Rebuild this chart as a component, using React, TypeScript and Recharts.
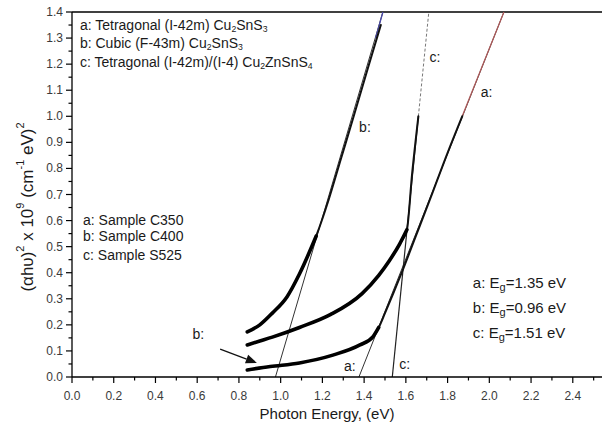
import React from 'react';
import { LineChart, Line, XAxis, YAxis, ReferenceLine, ReferenceDot } from 'recharts';

// ---- axis ticks ----
const X_TICKS = [0, 0.1, 0.2, 0.3, 0.4, 0.5, 0.6, 0.7, 0.8, 0.9, 1.0, 1.1, 1.2, 1.3, 1.4, 1.5, 1.6, 1.7, 1.8, 1.9, 2.0, 2.1, 2.2, 2.3, 2.4, 2.5];
const X_LABELED_MAX = 2.4;
const Y_TICKS = [0, 0.05, 0.1, 0.15, 0.2, 0.25, 0.3, 0.35, 0.4, 0.45, 0.5, 0.55, 0.6, 0.65, 0.7, 0.75, 0.8, 0.85, 0.9, 0.95, 1.0, 1.05, 1.1, 1.15, 1.2, 1.25, 1.3, 1.35, 1.4];

// ---- measured curves (photon energy eV, (αhν)^2 x 1e9) ----
const CURVE_A_X = [0.84, 0.95, 1.09, 1.25, 1.38, 1.443, 1.47, 1.50, 1.58, 1.65, 1.715, 1.80, 1.87];
const CURVE_A_Y = [0.027, 0.04, 0.054, 0.084, 0.123, 0.155, 0.19, 0.245, 0.40, 0.545, 0.68, 0.86, 1.0];
const CURVE_A_DENSE = 7; // points in the dense (thick) low-energy part

const CURVE_B_X = [0.84, 0.90, 0.96, 1.03, 1.09, 1.17, 1.23, 1.29, 1.35, 1.42, 1.48];
const CURVE_B_Y = [0.173, 0.20, 0.245, 0.307, 0.395, 0.54, 0.68, 0.84, 1.0, 1.19, 1.35];
const CURVE_B_DENSE = 6;

const CURVE_C_X = [0.84, 0.90, 0.96, 1.09, 1.24, 1.39, 1.47, 1.52, 1.57, 1.605, 1.63, 1.66];
const CURVE_C_Y = [0.123, 0.138, 0.153, 0.19, 0.24, 0.32, 0.39, 0.445, 0.51, 0.565, 0.78, 1.0];
const CURVE_C_DENSE = 10;

// ---- linear fits (band gap extrapolation) ----
const FIT_A_X = [1.375, 2.07];
const FIT_A_Y = [0, 1.4];
const FIT_A_TOP_X = [1.87, 2.07];
const FIT_A_TOP_Y = [1.0, 1.4];
const FIT_B_X = [0.975, 1.49];
const FIT_B_Y = [0, 1.4];
const FIT_B_TOP_X = [1.455, 1.49];
const FIT_B_TOP_Y = [1.3, 1.4];
const FIT_C_X = [1.535, 1.66];
const FIT_C_Y = [0, 1.0];
const FIT_C_EXT_X = [1.66, 1.71];
const FIT_C_EXT_Y = [1.0, 1.4];

// ---- arrow for "b:" ----
const ARROW_X = [0.71, 0.886];
const ARROW_Y = [0.107, 0.054];

// ---- texts ----
type Seg = { t: string; sub?: boolean };
const PHASE_LABELS: Seg[][] = [
  [{ t: 'a: Tetragonal (I-42m) Cu' }, { t: '2', sub: true }, { t: 'SnS' }, { t: '3', sub: true }],
  [{ t: 'b: Cubic (F-43m) Cu' }, { t: '2', sub: true }, { t: 'SnS' }, { t: '3', sub: true }],
  [{ t: 'c: Tetragonal (I-42m)/(I-4) Cu' }, { t: '2', sub: true }, { t: 'ZnSnS' }, { t: '4', sub: true }],
];
const PHASE_X = 0.038;
const PHASE_Y = [1.35, 1.281, 1.208];

const SAMPLE_LABELS = ['a: Sample C350', 'b: Sample C400', 'c: Sample S525'];
const SAMPLE_X = 0.053;
const SAMPLE_Y = [0.602, 0.541, 0.468];

const GAP_LETTERS = ['a', 'b', 'c'];
const GAP_VALUES = ['1.35', '0.96', '1.51'];
const GAP_X = 1.921;
const GAP_Y = [0.364, 0.269, 0.173];

const CURVE_TAGS = [
  { text: 'c:', x: 1.739, y: 1.229 },
  { text: 'a:', x: 1.987, y: 1.094 },
  { text: 'b:', x: 1.404, y: 0.96 },
  { text: 'b:', x: 0.605, y: 0.165 },
  { text: 'a:', x: 1.332, y: 0.043 },
  { text: 'c:', x: 1.595, y: 0.049 },
];

const FONT = '"Liberation Sans", Arial, Helvetica, sans-serif';

const zip = (xs: number[], ys: number[]) => xs.map((x, i) => ({ x, y: ys[i] }));

const XTick = (props: any) => {
  const { x, y, payload } = props;
  const v = payload.value as number;
  const idx = Math.round(v * 10);
  const major = idx % 2 === 0;
  const labeled = major && v <= X_LABELED_MAX + 1e-9;
  return (
    <g>
      <line x1={x} y1={y} x2={x} y2={y + (major ? 6 : 3.5)} stroke="#000" strokeWidth={1.2} />
      {labeled && (
        <text x={x} y={y + 19} textAnchor="middle" dominantBaseline="central" fontSize={12} fill="#3a3a3a" fontFamily={FONT}>
          {v.toFixed(1)}
        </text>
      )}
    </g>
  );
};

const YTick = (props: any) => {
  const { x, y, payload } = props;
  const v = payload.value as number;
  const idx = Math.round(v * 20);
  const major = idx % 2 === 0;
  return (
    <g>
      <line x1={x - (major ? 6 : 3.5)} y1={y} x2={x} y2={y} stroke="#000" strokeWidth={1.2} />
      {major && (
        <text x={x - 9} y={y} textAnchor="end" dominantBaseline="central" fontSize={12} fill="#3a3a3a" fontFamily={FONT}>
          {v.toFixed(1)}
        </text>
      )}
    </g>
  );
};

const renderSegs = (segs: Seg[], fs: number) => {
  const out: React.ReactNode[] = [];
  let lowered = false;
  segs.forEach((s, i) => {
    if (s.sub) {
      out.push(
        <tspan key={i} dy={lowered ? 0 : 4} fontSize={fs * 0.62}>
          {s.t}
        </tspan>
      );
      lowered = true;
    } else {
      out.push(
        <tspan key={i} dy={lowered ? -4 : 0}>
          {s.t}
        </tspan>
      );
      lowered = false;
    }
  });
  return out;
};

const textShape = (content: React.ReactNode, fs: number, anchor: 'start' | 'middle' = 'start') => (p: any) => (
  <text x={p.cx} y={p.cy} textAnchor={anchor} dominantBaseline="central" fontSize={fs} fill="#1a1a1a" fontFamily={FONT}>
    {content}
  </text>
);

const arrowShape = (p: any) => {
  const { x1, y1, x2, y2 } = p;
  const ang = Math.atan2(y2 - y1, x2 - x1);
  const L = 11;
  const W = 4.5;
  const bx = x2 - L * Math.cos(ang);
  const by = y2 - L * Math.sin(ang);
  const px = -Math.sin(ang) * W;
  const py = Math.cos(ang) * W;
  return (
    <g>
      <line x1={x1} y1={y1} x2={bx} y2={by} stroke="#111" strokeWidth={1.3} />
      <polygon points={`${x2},${y2} ${bx + px},${by + py} ${bx - px},${by - py}`} fill="#111" />
    </g>
  );
};

const YLabel = () => (
  <text
    x={27}
    y={207}
    transform="rotate(-90 27 207)"
    textAnchor="middle"
    dominantBaseline="central"
    fontSize={17}
    fill="#1a1a1a"
    fontFamily={FONT}
  >
    (αhυ)
    <tspan dy={-7} fontSize={11}>2</tspan>
    <tspan dy={7}> x 10</tspan>
    <tspan dy={-7} fontSize={11}>9</tspan>
    <tspan dy={7}> (cm</tspan>
    <tspan dy={-7} fontSize={11}>-1</tspan>
    <tspan dy={7}> eV)</tspan>
    <tspan dy={-7} fontSize={11}>2</tspan>
  </text>
);

const XLabel = () => (
  <text x={327} y={413} textAnchor="middle" dominantBaseline="central" fontSize={15} fill="#1a1a1a" fontFamily={FONT}>
    Photon Energy, (eV)
  </text>
);

export default function App() {
  const thin = { stroke: '#111', strokeWidth: 2, strokeLinecap: 'round' as const };
  const thick = { stroke: '#000', strokeWidth: 3.6, strokeLinecap: 'round' as const };
  const A = zip(CURVE_A_X, CURVE_A_Y);
  const B = zip(CURVE_B_X, CURVE_B_Y);
  const C = zip(CURVE_C_X, CURVE_C_Y);
  return (
    <div style={{ position: 'absolute', left: 0, top: 0, width: 602, height: 425, background: '#fff' }}>
      <LineChart width={602} height={425} margin={{ top: 12, right: 0, left: 0, bottom: 0 }}>
        <XAxis
          type="number"
          dataKey="x"
          domain={[0, 2.54]}
          ticks={X_TICKS}
          interval={0}
          tickSize={0}
          tickMargin={0}
          tickLine={false}
          tick={<XTick />}
          height={48}
          allowDataOverflow
          axisLine={{ stroke: '#000', strokeWidth: 1.3 }}
          label={{ content: () => <XLabel /> }}
        />
        <YAxis
          type="number"
          dataKey="y"
          domain={[0, 1.4]}
          ticks={Y_TICKS}
          interval={0}
          tickSize={0}
          tickMargin={0}
          tickLine={false}
          tick={<YTick />}
          width={72}
          allowDataOverflow
          axisLine={{ stroke: '#000', strokeWidth: 1.3 }}
          label={{ content: () => <YLabel /> }}
        />
        <ReferenceLine y={1.4} stroke="#000" strokeWidth={1.5} />

        {/* fits */}
        <Line data={zip(FIT_B_X, FIT_B_Y)} dataKey="y" type="linear" stroke="#333" strokeWidth={1} dot={false} isAnimationActive={false} />
        <Line data={zip(FIT_B_TOP_X, FIT_B_TOP_Y)} dataKey="y" type="linear" stroke="#4a4aa8" strokeWidth={1.3} dot={false} isAnimationActive={false} />
        <Line data={zip(FIT_A_X, FIT_A_Y)} dataKey="y" type="linear" stroke="#333" strokeWidth={1} dot={false} isAnimationActive={false} />
        <Line data={zip(FIT_A_TOP_X, FIT_A_TOP_Y)} dataKey="y" type="linear" stroke="#b05a5a" strokeWidth={1.2} dot={false} isAnimationActive={false} />
        <Line data={zip(FIT_C_X, FIT_C_Y)} dataKey="y" type="linear" stroke="#222" strokeWidth={1.2} dot={false} isAnimationActive={false} />
        <Line data={zip(FIT_C_EXT_X, FIT_C_EXT_Y)} dataKey="y" type="linear" stroke="#777" strokeWidth={1} strokeDasharray="3 2" dot={false} isAnimationActive={false} />

        {/* measured curves: full trace, then dense low-energy part drawn heavier */}
        <Line data={A} dataKey="y" type="monotone" {...thin} dot={false} isAnimationActive={false} />
        <Line data={B} dataKey="y" type="monotone" {...thin} dot={false} isAnimationActive={false} />
        <Line data={C} dataKey="y" type="monotone" {...thin} dot={false} isAnimationActive={false} />
        <Line data={A.slice(0, CURVE_A_DENSE)} dataKey="y" type="monotone" {...thick} dot={false} isAnimationActive={false} />
        <Line data={B.slice(0, CURVE_B_DENSE)} dataKey="y" type="monotone" {...thick} dot={false} isAnimationActive={false} />
        <Line data={C.slice(0, CURVE_C_DENSE)} dataKey="y" type="monotone" {...thick} dot={false} isAnimationActive={false} />

        <ReferenceLine
          segment={[
            { x: ARROW_X[0], y: ARROW_Y[0] },
            { x: ARROW_X[1], y: ARROW_Y[1] },
          ]}
          shape={arrowShape}
        />

        {PHASE_LABELS.map((segs, i) => (
          <ReferenceDot key={'p' + i} x={PHASE_X} y={PHASE_Y[i]} r={0} shape={textShape(renderSegs(segs, 14), 14)} />
        ))}
        {SAMPLE_LABELS.map((s, i) => (
          <ReferenceDot key={'s' + i} x={SAMPLE_X} y={SAMPLE_Y[i]} r={0} shape={textShape(s, 14)} />
        ))}
        {GAP_LETTERS.map((l, i) => (
          <ReferenceDot
            key={'g' + i}
            x={GAP_X}
            y={GAP_Y[i]}
            r={0}
            shape={textShape(
              <>
                <tspan>{l}: E</tspan>
                <tspan dy={5} fontSize={11}>g</tspan>
                <tspan dy={-5}>={GAP_VALUES[i]} eV</tspan>
              </>,
              15
            )}
          />
        ))}
        {CURVE_TAGS.map((t, i) => (
          <ReferenceDot key={'t' + i} x={t.x} y={t.y} r={0} shape={textShape(t.text, 14, 'middle')} />
        ))}
      </LineChart>
    </div>
  );
}
